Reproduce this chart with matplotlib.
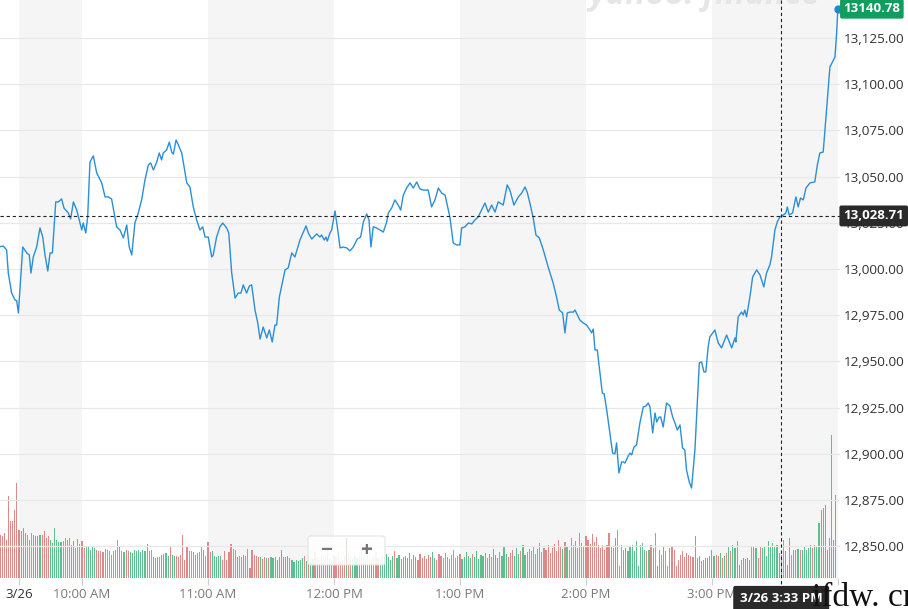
import numpy as np
import matplotlib
matplotlib.use("Agg")
import matplotlib.pyplot as plt
import matplotlib.transforms as mtransforms
from matplotlib.patches import FancyBboxPatch

plt.rcParams['font.family'] = ['Open Sans', 'DejaVu Sans']

# minutes after the 9:30 open (negative = previous session tail)
price_t = [-9.0, -7.5, -6.7, -5.9, -5.1, -3.5, -1.9, -1.1, -0.3, 1.8, 3.7, 4.9, 5.7, 6.8, 8.4,
           10.0, 11.3, 12.4, 13.7, 14.8, 15.9, 17.5, 18.7, 20.3, 21.4, 23.5, 24.6, 25.9, 27.5,
           29.9, 30.6, 31.8, 32.7, 33.8, 35.4, 37.0, 39.4, 41.0, 42.5, 44.1, 46.5, 48.1, 49.7,
           51.3, 52.5, 53.7, 55.2, 56.8, 58.4, 60.0, 61.6, 62.7, 64.0, 65.6, 66.8, 67.9, 68.7,
           70.3, 71.6, 72.7, 73.5, 74.8, 75.9, 77.5, 79.9, 81.4, 83.0, 84.6, 86.2, 87.5, 88.6,
           90.1, 91.8, 92.5, 94.1, 95.7, 97.0, 98.9, 99.9, 101.3, 102.9, 104.4, 105.7, 106.8,
           108.4, 109.7, 110.8, 112.4, 113.7, 114.8, 116.3, 118.0, 119.2, 120.6, 121.9, 122.7,
           124.0, 126.7, 128.2, 129.9, 131.4, 133.8, 136.7, 137.8, 139.4, 141.8, 143.3, 144.1,
           145.4, 146.2, 146.8, 148.1, 148.9, 150.5, 152.0, 152.9, 154.4, 156.1, 157.6, 159.2,
           161.1, 162.7, 164.0, 165.6, 166.7, 167.6, 168.7, 170.3, 171.9, 173.5, 175.1, 175.9,
           177.5, 179.0, 180.6, 181.8, 183.0, 184.6, 186.2, 187.8, 189.4, 191.0, 192.5, 194.9,
           196.5, 198.1, 199.7, 201.3, 202.9, 205.2, 206.8, 208.4, 210.0, 210.8, 212.4, 214.0,
           215.6, 217.1, 218.7, 220.3, 221.9, 223.5, 225.1, 226.7, 228.2, 230.6, 232.5, 233.8,
           235.7, 237.8, 239.4, 241.0, 242.0, 243.3, 244.9, 246.2, 247.8, 249.7, 252.0, 254.4,
           256.0, 257.3, 258.9, 260.0, 261.1, 262.4, 264.0, 264.8, 267.1, 268.7, 270.3, 271.9,
           272.7, 273.5, 274.3, 275.4, 276.7, 277.8, 278.7, 279.9, 281.4, 282.7, 283.8, 284.6,
           285.7, 287.0, 287.8, 288.6, 290.1, 291.0, 291.8, 292.9, 294.1, 295.7, 297.3, 298.6,
           299.7, 300.5, 301.8, 302.9, 303.7, 304.9, 305.6, 306.8, 308.4, 310.0, 311.3, 312.4,
           313.5, 314.8, 316.0, 317.1, 317.9, 319.2, 320.3, 321.9, 324.0, 325.1, 326.2, 327.1,
           328.2, 329.0, 331.4, 333.0, 334.6, 337.0, 339.4, 341.0, 341.4, 342.5, 344.1, 344.9,
           345.7, 346.5, 348.1, 349.4, 351.3, 352.9, 354.7, 356.0, 357.6, 358.4, 360.0, 361.1,
           362.4, 364.0, 365.2, 365.9, 366.8, 368.4, 370.0, 371.1, 372.2, 373.5, 374.8, 376.7,
           379.0, 380.2, 381.4, 383.0, 384.6, 386.2, 388.6, 389.4, 390.0]
price = [13012.1, 13012.4, 13011.4, 13010.3, 12997.8, 12987.0, 12983.2, 12982.9, 12976.2,
         13011.9, 13008.7, 13007.6, 12997.8, 13006.5, 13011.9, 13022.2, 13017.3, 13007.6,
         12998.9, 13008.7, 13008.7, 13036.3, 13036.3, 13037.9, 13033.0, 13030.3, 13027.1,
         13036.3, 13031.9, 13021.1, 13024.9, 13019.5, 13028.2, 13057.9, 13061.2, 13052.0,
         13046.6, 13039.0, 13039.0, 13037.9, 13022.8, 13021.1, 13016.8, 13023.8, 13011.9,
         13007.6, 13024.9, 13030.3, 13037.4, 13048.2, 13056.3, 13057.4, 13053.6, 13057.9,
         13062.8, 13059.0, 13062.8, 13064.4, 13068.7, 13063.3, 13062.2, 13069.8, 13067.1,
         13062.8, 13046.6, 13044.4, 13033.6, 13026.5, 13021.1, 13022.8, 13017.3, 13017.3,
         13006.5, 13007.6, 13017.3, 13022.8, 13024.9, 13022.2, 13019.5, 12997.8, 12984.3,
         12987.0, 12987.0, 12991.4, 12987.0, 12990.8, 12991.4, 12977.8, 12970.8, 12962.1,
         12968.6, 12962.7, 12967.0, 12960.5, 12969.7, 12969.7, 12984.9, 12999.5, 13000.6,
         13008.7, 13006.5, 13015.7, 13023.3, 13019.5, 13016.2, 13019.0, 13017.3, 13018.4,
         13015.7, 13017.3, 13015.1, 13019.5, 13021.1, 13031.4, 13019.5, 13011.4, 13011.9,
         13011.4, 13009.8, 13011.9, 13016.2, 13017.3, 13025.4, 13029.8, 13026.5, 13011.9,
         13022.8, 13022.2, 13021.1, 13020.0, 13025.4, 13030.3, 13033.0, 13037.4, 13034.6,
         13031.9, 13040.0, 13043.8, 13046.6, 13043.8, 13047.1, 13043.3, 13042.7, 13042.7,
         13033.6, 13037.4, 13043.8, 13041.1, 13040.0, 13028.2, 13014.1, 13013.0, 13013.0,
         13022.2, 13022.8, 13024.9, 13024.4, 13026.5, 13028.2, 13031.9, 13035.7, 13030.8,
         13034.6, 13030.8, 13036.3, 13034.6, 13045.5, 13042.7, 13034.6, 13039.0, 13041.1,
         13044.4, 13041.7, 13035.7, 13027.6, 13018.4, 13016.8, 13010.3, 13001.1, 12992.4,
         12984.9, 12977.8, 12976.2, 12965.4, 12976.2, 12976.7, 12976.7, 12977.8, 12972.4,
         12970.8, 12969.7, 12967.0, 12965.4, 12967.5, 12956.2, 12956.2, 12943.7, 12932.9,
         12932.4, 12923.7, 12911.3, 12900.4, 12899.9, 12905.9, 12889.6, 12895.6, 12895.6,
         12895.0, 12898.8, 12900.4, 12899.4, 12903.7, 12904.8, 12916.7, 12925.3, 12925.9,
         12927.5, 12925.3, 12911.3, 12922.1, 12917.2, 12919.9, 12919.9, 12914.5, 12927.5,
         12925.9, 12919.9, 12916.7, 12912.9, 12915.6, 12903.2, 12902.1, 12891.3, 12884.8,
         12881.5, 12902.1, 12949.2, 12949.7, 12944.3, 12944.3, 12957.8, 12963.2, 12967.0,
         12960.0, 12957.3, 12964.3, 12957.3, 12962.7, 12960.5, 12974.1, 12976.7, 12975.1,
         12977.8, 12974.1, 12984.9, 12995.7, 12999.5, 12996.8, 12990.3, 12997.8, 13002.2,
         13006.5, 13021.1, 13025.4, 13028.2, 13029.2, 13030.3, 13033.6, 13029.2, 13030.3,
         13039.0, 13033.6, 13038.4, 13037.4, 13043.8, 13046.6, 13047.1, 13056.3, 13062.8,
         13063.3, 13086.0, 13109.3, 13114.7, 13127.7, 13140.78]

# one volume bar per minute, from minute -9 to 389 (units of 10k shares)
vol_open = [43, 42, 45, 38, 82, 57, 57, 68, 95, 48, 47, 50, 45, 43, 38, 45, 43, 42, 42, 43,
            43, 47, 40, 42, 38, 35, 50, 38, 36, 36, 37, 40, 38, 40, 33, 37, 30, 39, 34,
            37, 30, 31, 32, 28, 32, 30, 28, 27, 27, 26, 29, 28, 27, 23, 27, 28, 38, 31,
            27, 26, 28, 27, 26, 25, 28, 27, 28, 26, 28, 27, 34, 27, 28, 21, 20, 21, 21,
            23, 24, 25, 22, 32, 23, 22, 22, 21, 23, 43, 18, 32, 27, 27, 26, 23, 25, 26,
            32, 28, 22, 36, 26, 27, 22, 21, 22, 22, 18, 27, 18, 26, 34, 29, 28, 21, 22,
            21, 23, 22, 29, 10, 28, 23, 22, 21, 21, 19, 21, 20, 20, 21, 20, 21, 18, 21,
            28, 21, 21, 22, 20, 18, 16, 18, 17]
vol_mid = [18, 20, 22, 17, 24, 20, 19, 26, 21, 18, 22, 19, 24, 30, 20, 18, 23, 21, 26, 19,
           20, 22, 18, 25, 21, 19, 23, 20, 22, 28, 21, 19, 24, 20, 18, 22, 26, 20, 19, 23,
           20, 24, 21, 18, 22, 27, 20, 23, 19, 21, 22, 20, 25, 19, 23, 21, 18, 24, 20, 22,
           19, 23, 21, 26, 20, 18, 24, 22, 20, 25, 21, 19, 23, 28, 20, 22, 24, 19, 21, 26,
           22, 20, 24, 21, 27, 19, 23, 22, 25, 20, 24, 21, 29, 23, 20, 26, 22, 31, 24, 21,
           25, 28, 22, 30, 24, 27, 33, 23, 26, 29, 27, 31, 24, 29, 35, 26, 30, 28, 33, 25,
           30, 34, 27, 38, 31, 29, 36, 32, 28, 40, 33, 37, 30, 45, 35, 32, 42, 38, 34, 44,
           36, 41, 33]
vol_late = [30, 33, 28, 33, 45, 32, 30, 40, 48, 12, 33, 28, 30, 27, 32, 33, 27, 37, 12, 33,
            35, 28, 27, 28, 33, 30, 45, 12, 28, 23, 32, 27, 12, 30, 32, 28, 12, 18, 23, 27,
            21, 25, 23, 22, 21, 42, 20, 22, 17, 18, 20, 20, 22, 28, 22, 23, 22, 25, 20, 22,
            25, 31, 27, 33, 30, 37, 13, 18, 20, 19, 20, 18, 32, 32, 30, 20, 31, 30, 31, 22,
            37, 32, 35, 32, 33, 25, 23, 38, 27, 13, 40, 23, 28, 28, 29, 28, 28, 31, 28, 30,
            33, 30, 33, 32, 55, 68, 70, 73, 28, 40, 143, 38, 83]
vol_side = ("rrrrrrrrrr" "gggrrrgggg" "rrrrgggggg" "rrrrggrrrr" "rgggggrrrr"
            "rrrrrrrgrg" "rrgggggggg" "ggrgggrggg" "grggrrrrrr" "rrrrrrrgrr"
            "rgggggrrrr" "rrrgrrgrrr" "rrrrgrrgrg" "ggggggggrg" "gggggrgrgg"
            "rggrgrgggr" "rrrrrgrrgg" "gggggrrggr" "rgggggggrg" "ggggggrggr"
            "rrrrrrggrr" "rrrrrrrrrr" "gggggrgggg" "ggrgrgggrg" "ggrrrgggrg"
            "grrrrrrrrr" "rrrrrrrrgr" "grrrgrrrrr" "rrrrrrrrrr" "rrrgrrrggg"
            "ggggggggrg" "rgrggrgrrr" "rrrrrrrrrr" "rgggggggrg" "grrgrgrgrg"
            "gggrggggrg" "grrggggggg" "gggrgggrgg" "grgggggrgg" "ggggggggg")

tick_t = [0, 30, 90, 150, 210, 270, 330]
tick_lab = ["3/26", "10:00 AM", "11:00 AM", "12:00 PM", "1:00 PM", "2:00 PM", "3:00 PM"]
price_ticks = [12850, 12875, 12900, 12925, 12950, 12975, 13000, 13025, 13050, 13075, 13100, 13125]
cursor_t, cursor_p = 363, 13028.71
last_p = 13140.78

vol = vol_open + vol_mid + vol_late
vol_t = np.arange(-9, -9 + len(vol))
vol_col = ['#5dbf8d' if c == 'g' else '#e08888' for c in vol_side]

fig = plt.figure(figsize=(9.08, 6.09), dpi=100)
rect = [0, 31 / 609, 840 / 908, 578 / 609]
axv = fig.add_axes(rect, zorder=1)
ax = fig.add_axes(rect, zorder=2, sharex=axv)
ax.patch.set_alpha(0)

# shaded hour bands
for a, b in [(0, 30), (90, 150), (210, 270), (330, 390)]:
    axv.axvspan(a, b, color='#f5f5f5', lw=0, zorder=0)
axv.bar(vol_t, vol, width=0.55, color=vol_col, zorder=2)
axv.set_ylim(0, 578)
axv.set_xlim(-9.05, 391)
axv.axis('off')

for p in price_ticks:
    ax.axhline(p, color='#e8e8e8', lw=0.9, zorder=0)
ax.plot(price_t, price, color='#2a8fd4', lw=1.0, zorder=3)
ax.plot([price_t[-1]], [last_p], 'o', color='#1e88d2', ms=5, zorder=4, clip_on=False)
ax.set_ylim(12832.8, 13145.56)
for s in ax.spines.values():
    s.set_visible(False)

ax.yaxis.tick_right()
ax.set_yticks(price_ticks)
ax.set_yticklabels([f"{v:,.2f}" for v in price_ticks])
ax.tick_params(axis='y', length=0, pad=3, labelsize=9.7, labelcolor='#333333')
ax.set_xticks(tick_t + [390])
ax.set_xticklabels(tick_lab + [""])
ax.tick_params(axis='x', length=5, width=0.8, color='#cccccc', pad=2, labelsize=9.5,
               labelcolor='#7a7a7a')
ax.get_xticklabels()[0].set_color('#333333')

# faded logo at the top, above the bands
ax.text(820 / 840, 1 - 4 / 578, "yahoo! finance", transform=ax.transAxes, ha='right',
        va='baseline', fontsize=24, fontweight='bold', style='italic', color='#e6e6e6',
        zorder=1, clip_on=False)

# crosshair
ax.axhline(cursor_p, color='#222222', lw=0.8, ls=(0, (3, 2.5)), zorder=5)
ax.axvline(cursor_t, ymin=-0.02, ymax=1, color='#222222', lw=0.8, ls=(0, (3, 2.5)),
           zorder=5, clip_on=False)

tr = mtransforms.blended_transform_factory(ax.transAxes, ax.transData)
ax.text(1.004, last_p, "13140.78", transform=tr, ha='left', va='center', color='white',
        fontsize=9.5, fontweight='bold', zorder=10, clip_on=False,
        bbox=dict(boxstyle='round,pad=0.25,rounding_size=0.15', fc='#0f9e5e', ec='none'))
ax.text(1.004, cursor_p, "13,028.71", transform=tr, ha='left', va='center', color='white',
        fontsize=9.5, fontweight='bold', zorder=10, clip_on=False,
        bbox=dict(boxstyle='round,pad=0.3,rounding_size=0.15', fc='#2a2a2a', ec='none'))
trx = mtransforms.blended_transform_factory(ax.transData, fig.transFigure)
ax.text(cursor_t, 10 / 609, "3/26 3:33 PM", transform=trx, ha='center', va='center',
        color='white', fontsize=9.5, fontweight='bold', zorder=10, clip_on=False,
        bbox=dict(boxstyle='round,pad=0.5,rounding_size=0.15', fc='#2a2a2a', ec='none'))

# zoom control
zbox = FancyBboxPatch((308 / 908, 44 / 609), 77 / 908, 29 / 609,
                      boxstyle='round,pad=0,rounding_size=0.004', transform=fig.transFigure,
                      fc='white', ec='#e2e2e2', lw=0.8, alpha=0.9, zorder=20)
fig.patches.append(zbox)
fig.lines.append(plt.Line2D([346 / 908, 346 / 908], [46 / 609, 71 / 609],
                            transform=fig.transFigure, color='#e2e2e2', lw=0.8, zorder=21))
fig.text(326 / 908, 59 / 609, "\u2212", ha='center', va='center', fontsize=15,
         fontweight='bold', color='#777777', zorder=22)
fig.text(366 / 908, 59 / 609, "+", ha='center', va='center', fontsize=15,
         fontweight='bold', color='#777777', zorder=22)

# site watermark
fig.text(812 / 908, 3 / 609, "ifdw. cn", ha='left', va='baseline', fontsize=24,
         family=['Liberation Serif', 'DejaVu Serif'], color='#111111', zorder=30)

fig.savefig("out.png", dpi=100)
